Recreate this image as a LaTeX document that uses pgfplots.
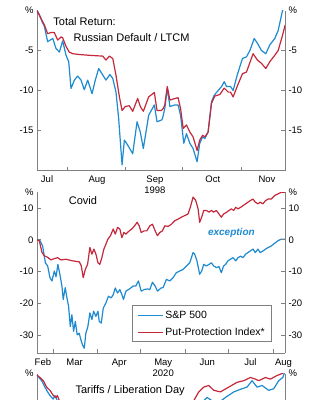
\documentclass[border=0pt]{standalone}
\usepackage{fontspec}
\setmainfont{Liberation Sans}
\usepackage{pgfplots}
\pgfplotsset{compat=1.18}
\definecolor{spblue}{RGB}{30,138,208}
\definecolor{ppred}{RGB}{196,40,58}
\definecolor{axgray}{RGB}{128,128,128}
\tikzset{
  sp/.style={spblue, line width=1.2pt, line join=round},
  pp/.style={ppred, line width=1.2pt, line join=round},
}
\pgfplotsset{
  panel/.style={scale only axis, width=248pt,
    axis line style={draw=axgray, line width=0.8pt},
    every outer x axis line/.append style={-},
    every outer y axis line/.append style={-},
    tick style={draw=axgray, line width=0.8pt},
    major tick length=4pt,
    ticklabel style={font=\fontsize{9.5}{11}\selectfont},
    xticklabel style={align=center, yshift=-2pt},
    clip=true},
  leftpanel/.style={panel, axis x line*=bottom, axis y line*=left, tick align=inside},
  rightpanel/.style={panel, axis y line*=right, hide x axis, tick align=inside},
}
\begin{document}
\begin{tikzpicture}
\useasboundingbox (0,0) rectangle (324pt,-400pt);
\clip (0,0) rectangle (324pt,-400pt);
% ---------------- Panel 1: 1998 ----------------
\begin{axis}[leftpanel, at={(37pt,-170.5pt)}, anchor=south west, height=160pt,
  xmin=15.2, xmax=145.8, ymin=-20, ymax=0,
  ytick={-15,-10,-5}, yticklabels={-15,-10,-5},
  extra y ticks={0}, extra y tick labels={\%}, extra y tick style={tick style={draw=none}},
  xtick={31,62,92,123}, xticklabels={},
  extra x ticks={20.5,46.8,77.3,107.8,136.3}, extra x tick labels={Jul,Aug,{Sep\\1998},Oct,Nov},
  extra x tick style={tick style={draw=none}}]
\addplot[sp] coordinates {(15.2,0) (16.4,-0.5) (17.9,-1.4) (19.1,-2.0) (20.8,-3.9) (22.1,-3.7) (23.5,-3.5) (25.2,-4.75) (27.0,-5.2) (28.7,-3.8) (30.5,-5.6) (31.9,-6.4) (33.1,-9.75) (34.9,-8.7) (36.6,-8.2) (38.4,-8.7) (40.1,-9.9) (41.9,-8.7) (44.2,-10.4) (45.9,-8.7) (47.7,-7.25) (49.4,-7.9) (51.5,-8.7) (53.6,-8.0) (55.1,-8.5) (56.8,-10.2) (58.2,-13.5) (60.0,-19.3) (61.2,-16.2) (62.9,-16.8) (65.6,-17.9) (67.9,-13.9) (69.6,-15.2) (71.2,-17.25) (74.0,-13.1) (77.0,-11.8) (78.4,-13.9) (80.7,-13.7) (81.3,-13.5) (82.5,-12.25) (83.8,-9.75) (85.2,-12.0) (87.8,-11.8) (89.5,-11.8) (90.8,-13.1) (92.5,-16.6) (93.9,-15.4) (95.7,-16.6) (97.4,-17.25) (99.5,-18.9) (100.9,-16.6) (102.4,-15.8) (103.6,-16.0) (105.3,-15.2) (107.1,-11.4) (108.5,-10.6) (110.6,-10.0) (112.4,-9.5) (113.8,-8.9) (115.0,-9.5) (117.1,-9.5) (118.5,-10.0) (120.6,-8.1) (123.4,-6.0) (125.5,-5.8) (127.3,-5.0) (129.6,-3.5) (131.3,-4.1) (133.4,-5.0) (135.7,-5.4) (137.8,-4.3) (140.4,-3.5) (142.2,-2.5) (144.5,0) (145.9,0.4)};
\addplot[pp] coordinates {(15.2,0) (17.3,-1.0) (19.1,-1.8) (20.8,-2.9) (22.6,-2.75) (24.3,-2.75) (26.1,-3.7) (27.9,-3.3) (28.7,-3.4) (30.5,-4.5) (32.2,-5.2) (34.0,-5.4) (37.5,-5.5) (42.8,-5.6) (49.8,-5.7) (51.5,-6.2) (53.3,-5.7) (55.1,-6.0) (56.8,-8.1) (58.6,-10.8) (60.0,-12.5) (61.7,-12.0) (63.8,-11.9) (65.6,-12.6) (68.2,-11.0) (69.6,-12.0) (71.2,-12.6) (74.0,-10.8) (77.0,-10.25) (78.4,-12.5) (80.7,-12.5) (81.7,-12.25) (82.5,-11.8) (83.8,-9.5) (85.2,-11.2) (87.8,-11.0) (89.5,-10.9) (90.8,-12.25) (92.2,-14.75) (93.9,-14.3) (95.7,-15.2) (97.4,-15.8) (99.5,-17.5) (100.9,-16.2) (102.4,-15.6) (103.6,-15.8) (105.3,-15.2) (107.1,-11.6) (108.8,-10.7) (111.5,-10.5) (113.8,-9.7) (115.9,-10.2) (117.1,-10.2) (118.5,-10.8) (120.6,-9.5) (123.4,-7.9) (125.5,-7.7) (129.0,-5.4) (131.3,-6.2) (133.4,-6.6) (135.7,-7.25) (137.8,-6.4) (140.4,-5.6) (142.2,-5.0) (144.5,-3.1) (145.9,-1.8)};
\node[anchor=west, font=\fontsize{11}{13}\selectfont] at (axis cs:22,-1.4) {Total Return:};
\node[anchor=west, font=\fontsize{11}{13}\selectfont] at (axis cs:32.6,-3.4) {Russian Default / LTCM};
\end{axis}
\begin{axis}[rightpanel, at={(37pt,-170.5pt)}, anchor=south west, height=160pt,
  xmin=15.2, xmax=145.8, ymin=-20, ymax=0,
  ytick={-15,-10,-5}, yticklabels={-15,-10,-5},
  extra y ticks={0}, extra y tick labels={\%}, extra y tick style={tick style={draw=none}}]
\end{axis}
% ---------------- Panel 2: 2020 ----------------
\begin{axis}[leftpanel, at={(37pt,-353pt)}, anchor=south west, height=161pt,
  xmin=17.9, xmax=190, ymin=-35.5, ymax=15,
  ytick={-30,-20,-10,0,10}, yticklabels={-30,-20,-10,0,10},
  extra y ticks={15}, extra y tick labels={\%}, extra y tick style={tick style={draw=none}},
  xtick={29,60,90,121,151,182}, xticklabels={},
  extra x ticks={22,44,75,105.5,136,166,189}, extra x tick labels={Feb,Mar,Apr,{May\\2020},Jun,Jul,Aug},
  extra x tick style={tick style={draw=none}},
  legend style={at={(rel axis cs:0.948,0.068)}, anchor=south east, draw=axgray, line width=0.8pt,
    font=\fontsize{10.5}{12}\selectfont, cells={anchor=west}, inner xsep=5pt, inner ysep=3pt, row sep=4pt},
  legend image code/.code={\draw[#1, line width=1.2pt] (0pt,0pt) -- (25pt,0pt);}]
\addplot[sp] coordinates {(17.9,0) (20.0,-0.3) (21.8,-1.9) (23.7,-7.2) (25.3,-8.2) (26.9,-11.9) (28.3,-12.9) (29.9,-9.8) (31.1,-11.6) (32.4,-7.7) (33.8,-10.9) (35.2,-14.5) (36.1,-18.7) (37.5,-15.0) (38.7,-18.3) (39.8,-20.8) (41.0,-27.2) (42.1,-23.5) (43.3,-28.7) (44.5,-25.6) (45.8,-29.8) (47.2,-29.3) (48.4,-31.4) (49.5,-33.0) (50.7,-34.0) (51.8,-29.3) (53.2,-27.2) (54.6,-22.9) (56.0,-25.0) (57.2,-22.4) (58.8,-24.0) (60.2,-22.4) (61.1,-25.6) (62.5,-26.1) (63.9,-21.4) (65.7,-19.8) (67.5,-17.7) (69.4,-18.2) (70.8,-17.2) (72.2,-15.1) (73.8,-16.7) (75.4,-15.6) (76.8,-17.2) (77.9,-18.7) (79.6,-16.1) (81.4,-15.6) (83.0,-15.1) (84.6,-14.5) (86.5,-14.5) (88.3,-12.9) (90.2,-16.1) (92.3,-15.6) (94.6,-15.4) (96.2,-15.6) (98.0,-13.3) (99.9,-14.5) (101.5,-16.1) (104.0,-15.1) (105.4,-15.0) (107.7,-12.4) (110.0,-12.9) (112.3,-11.9) (114.6,-10.3) (116.9,-9.8) (119.3,-9.3) (121.6,-8.2) (123.9,-7.2) (126.2,-4.0) (127.3,-4.5) (128.9,-6.6) (130.8,-10.8) (132.2,-9.8) (133.6,-7.7) (135.4,-8.2) (137.3,-7.7) (138.9,-7.2) (140.5,-8.2) (142.4,-8.7) (144.2,-8.4) (145.8,-10.3) (147.4,-8.2) (148.8,-7.7) (150.4,-6.6) (152.1,-6.1) (153.9,-5.6) (155.8,-6.6) (157.4,-5.6) (159.2,-5.1) (160.8,-5.6) (162.7,-4.5) (164.3,-4.0) (165.9,-3.5) (167.8,-2.9) (169.4,-4.0) (171.2,-2.9) (172.8,-4.0) (174.7,-3.5) (176.5,-2.9) (178.4,-2.4) (180.5,-1.9) (182.8,-1.1) (185.1,-0.3) (187.4,0.2) (189.9,0.2)};
\addlegendentry{S\&P 500}
\addplot[pp] coordinates {(17.9,0) (19.5,-0.3) (21.4,-4.0) (23.0,-5.0) (25.3,-5.5) (27.6,-6.3) (29.9,-5.9) (32.2,-5.6) (34.5,-6.3) (38.0,-6.1) (42.6,-6.6) (47.2,-6.9) (48.6,-8.1) (50.0,-11.9) (51.4,-9.3) (53.0,-7.7) (54.6,-2.4) (56.0,-4.5) (57.4,-2.9) (58.8,-4.5) (60.2,-7.2) (61.5,-7.7) (62.9,-5.6) (64.3,-2.9) (65.7,-1.4) (67.1,0.2) (68.9,1.3) (70.8,3.4) (72.2,1.8) (73.8,3.9) (75.4,3.4) (76.8,0.7) (78.2,2.3) (79.6,1.8) (81.9,2.8) (83.7,3.4) (85.6,4.4) (87.4,5.5) (88.8,4.4) (90.2,2.3) (92.3,2.8) (94.1,2.8) (96.2,4.4) (98.0,4.9) (99.9,2.8) (101.5,1.3) (103.1,2.3) (104.9,2.8) (106.6,4.4) (108.9,4.2) (111.2,4.9) (113.5,6.0) (115.8,6.5) (118.1,7.1) (120.4,7.6) (122.7,8.1) (124.3,10.2) (126.2,13.4) (128.0,12.4) (129.7,9.7) (130.8,5.5) (132.2,7.1) (133.6,9.2) (135.4,9.2) (137.3,8.7) (138.9,9.2) (140.5,8.7) (142.4,9.2) (144.2,8.1) (145.8,7.1) (147.4,8.1) (149.3,8.6) (151.1,9.2) (152.8,9.7) (154.4,9.2) (155.8,10.2) (157.4,9.7) (159.2,10.2) (160.8,10.7) (162.7,11.3) (164.3,11.8) (165.9,12.3) (167.8,12.8) (169.4,11.8) (171.2,11.3) (172.8,11.8) (174.7,11.3) (176.5,12.3) (178.4,12.8) (180.5,12.8) (182.8,13.9) (185.1,14.4) (187.4,14.9) (189.9,14.9)};
\addlegendentry{Put-Protection Index*}
\node[font=\fontsize{11}{13}\selectfont] at (axis cs:49.8,12.2) {Covid};
\node[font=\bfseries\itshape\fontsize{10}{12}\selectfont, text=spblue] at (axis cs:152.8,2.1) {exception};
\end{axis}
\begin{axis}[rightpanel, at={(37pt,-353pt)}, anchor=south west, height=161pt,
  xmin=17.9, xmax=190, ymin=-35.5, ymax=15,
  ytick={-30,-20,-10,0,10}, yticklabels={-30,-20,-10,0,10},
  extra y ticks={15}, extra y tick labels={\%}, extra y tick style={tick style={draw=none}}]
\end{axis}
% ---------------- Panel 3: 2025 (cut off at the bottom edge) ----------------
\begin{axis}[leftpanel, at={(37pt,-373.5pt)}, anchor=north west, height=160pt,
  xmin=18, xmax=152, ymin=-20, ymax=0,
  ytick={-15,-10,-5}, yticklabels={},
  extra y ticks={0}, extra y tick labels={\%}, extra y tick style={tick style={draw=none}},
  xtick={28,59,89,120,150}, xticklabels={}]
\addplot[sp] coordinates {(18,-0.2) (20.5,-0.9) (23.2,-2.1) (25,-2.75) (26.8,-3.2) (27.7,-2.75) (29,-3.4) (32,-5) (38,-8.5) (42,-10) (48,-8) (55,-10) (60,-12) (66,-18.9) (68,-13) (75,-16) (80,-14) (85,-11) (90,-8) (95,-7) (100,-5) (105,-4.5) (108.1,-3.4) (109.9,-3.0) (112.6,-3.4) (115.3,-3.8) (119.8,-3.0) (124.3,-2.3) (128.8,-1.9) (131.5,-1.7) (134.2,-0.9) (136.9,-1.7) (139.6,-1.5) (143.2,-2.1) (145.9,-1.9) (148.6,-0.9) (150.8,-0.5) (152,0.3)};
\addplot[pp] coordinates {(18,-0.2) (19.6,-0.5) (21.4,-0.9) (23.2,-1.7) (25,-2.1) (26.8,-2.75) (28.3,-3.0) (29,-2.75) (30.4,-3.6) (32,-4) (38,-6) (42,-7) (48,-6) (55,-7.5) (60,-9) (66,-13) (68,-9) (75,-11) (80,-9.5) (85,-7.5) (90,-6) (95,-5) (100,-4) (102.7,-3.4) (105.4,-2.3) (108.1,-1.7) (110.8,-1.5) (113.5,-2.1) (117.1,-2.3) (121.6,-1.7) (126.1,-1.1) (129.7,-0.9) (133.3,-0.5) (136.0,-0.7) (137.8,-0.9) (141.4,-0.5) (144.1,-0.7) (147.7,-0.25) (150.4,0) (152,0.2)};
\node[anchor=west, font=\fontsize{11}{13}\selectfont] at (axis cs:36.9,-2.1) {Tariffs / Liberation Day};
\end{axis}
\begin{axis}[rightpanel, at={(37pt,-373.5pt)}, anchor=north west, height=160pt,
  xmin=18, xmax=152, ymin=-20, ymax=0,
  ytick={-15,-10,-5}, yticklabels={},
  extra y ticks={0}, extra y tick labels={\%}, extra y tick style={tick style={draw=none}}]
\end{axis}
\end{tikzpicture}
\end{document}
